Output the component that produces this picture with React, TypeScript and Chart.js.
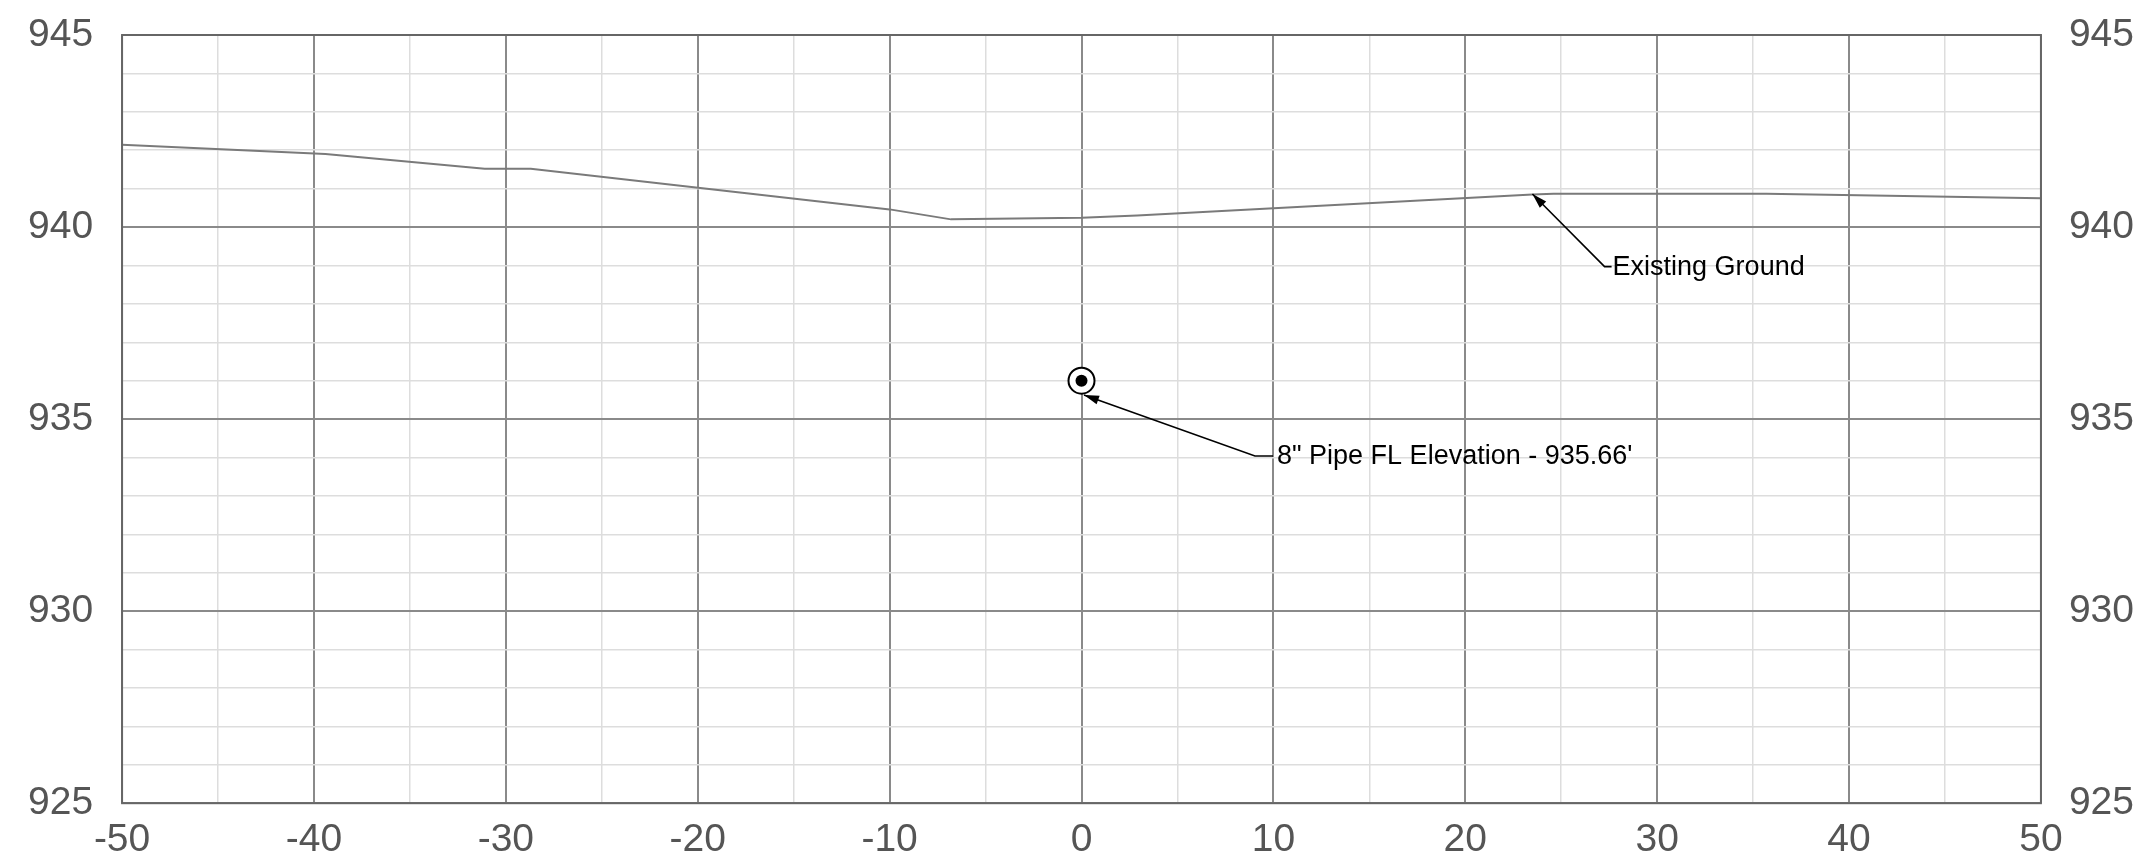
import React, { useEffect, useRef } from "react";
import { Chart, registerables } from "chart.js";

Chart.register(...registerables);

// ---- data ----
const xMin = -50;
const xMax = 50;
const yMin = 925;
const yMax = 945;

const stations = [-50, -39.4, -31.1, -28.7, -10, -6.8, 0, 2.9, 23.5, 24.6, 35.7, 50];
const groundElev = [942.14, 941.9, 941.52, 941.52, 940.46, 940.2, 940.24, 940.3, 940.85, 940.87, 940.87, 940.75];

const pipeStation = [0];
const pipeElev = [936.0];

const pipeLabel = `8" Pipe FL Elevation - 935.66'`;
const groundLabel = "Existing Ground";

// leader arrows: tip and elbow in data units
const pipeArrowTip = [0.13, 935.63];
const pipeArrowElbow = [9.04, 934.04];
const groundArrowTip = [23.5, 940.86];
const groundArrowElbow = [27.26, 938.97];

const FONT = '"Liberation Sans", Arial, Helvetica, sans-serif';

const frameAndNotes = {
  id: "frameAndNotes",
  afterDatasetsDraw(chart: any) {
    const { ctx, chartArea, scales } = chart;
    const xs = scales.x;
    const ys = scales.y;
    ctx.save();
    ctx.strokeStyle = "#666666";
    ctx.lineWidth = 2;
    ctx.strokeRect(chartArea.left, chartArea.top, chartArea.right - chartArea.left, chartArea.bottom - chartArea.top);

    const notes = [
      { tip: pipeArrowTip, elbow: pipeArrowElbow, tail: 18, gap: 4, text: pipeLabel },
      { tip: groundArrowTip, elbow: groundArrowElbow, tail: 7, gap: 1, text: groundLabel },
    ];
    for (const n of notes) {
      const tx = xs.getPixelForValue(n.tip[0]);
      const ty = ys.getPixelForValue(n.tip[1]);
      const ex = xs.getPixelForValue(n.elbow[0]);
      const ey = ys.getPixelForValue(n.elbow[1]);
      ctx.strokeStyle = "#000";
      ctx.lineWidth = 1.6;
      ctx.beginPath();
      ctx.moveTo(ex + n.tail, ey);
      ctx.lineTo(ex, ey);
      ctx.lineTo(tx, ty);
      ctx.stroke();
      // arrow head
      const ang = Math.atan2(ty - ey, tx - ex);
      const len = 15;
      const hw = 4.5;
      const bx = tx - len * Math.cos(ang);
      const by = ty - len * Math.sin(ang);
      ctx.fillStyle = "#000";
      ctx.beginPath();
      ctx.moveTo(tx, ty);
      ctx.lineTo(bx + hw * Math.sin(ang), by - hw * Math.cos(ang));
      ctx.lineTo(bx - hw * Math.sin(ang), by + hw * Math.cos(ang));
      ctx.closePath();
      ctx.fill();
      ctx.font = `27px ${FONT}`;
      ctx.textAlign = "left";
      ctx.textBaseline = "middle";
      ctx.fillText(n.text, ex + n.tail + n.gap, ey + 1);
    }
    ctx.restore();
  },
};

const noVerticalOverflow = (scale: any) => {
  scale.paddingTop = 0;
  scale.paddingBottom = 0;
};

export default function App() {
  const ref = useRef<HTMLCanvasElement | null>(null);
  useEffect(() => {
    if (!ref.current) return;
    const tickFont = { family: FONT, size: 39 };
    const chart = new Chart(ref.current, {
      type: "scatter",
      data: {
        datasets: [
          {
            label: "pipe-inner",
            data: pipeStation.map((x, i) => ({ x, y: pipeElev[i] })),
            pointRadius: 6,
            pointBackgroundColor: "#000",
            pointBorderWidth: 0,
            order: 0,
          },
          {
            label: "pipe-outer",
            data: pipeStation.map((x, i) => ({ x, y: pipeElev[i] })),
            pointRadius: 13,
            pointBackgroundColor: "#fff",
            pointBorderColor: "#000",
            pointBorderWidth: 2,
            order: 1,
          },
          {
            label: "ground",
            data: stations.map((x, i) => ({ x, y: groundElev[i] })),
            showLine: true,
            borderColor: "#7a7a7a",
            borderWidth: 2,
            pointRadius: 0,
            order: 2,
          },
        ],
      },
      options: {
        responsive: false,
        animation: false,
        devicePixelRatio: 1,
        layout: { padding: { left: -1, right: -16, top: 35, bottom: -10 } },
        plugins: { legend: { display: false }, tooltip: { enabled: false } },
        scales: {
          x: {
            type: "linear",
            min: xMin,
            max: xMax,
            border: { display: false },
            grid: {
              drawTicks: false,
              color: (c: any) => (c.tick && c.tick.value % 10 === 0 ? "#8a8a8a" : "#dddddd"),
              lineWidth: (c: any) => (c.tick && c.tick.value % 10 === 0 ? 2 : 1.5),
            },
            ticks: {
              stepSize: 5,
              autoSkip: false,
              maxRotation: 0,
              padding: 13.5,
              color: "#555555",
              font: tickFont,
              callback: (v: any) => (Number(v) % 10 === 0 ? String(v) : ""),
            },
          },
          y: {
            type: "linear",
            position: "left",
            min: yMin,
            max: yMax,
            afterFit: noVerticalOverflow,
            border: { display: false },
            grid: {
              drawTicks: false,
              color: (c: any) => (c.tick && c.tick.value % 5 === 0 ? "#8a8a8a" : "#dddddd"),
              lineWidth: (c: any) => (c.tick && c.tick.value % 5 === 0 ? 2 : 1.5),
            },
            ticks: {
              stepSize: 1,
              autoSkip: false,
              padding: 29,
              color: "#555555",
              font: tickFont,
              callback: (v: any) => (Number(v) % 5 === 0 ? String(v) : ""),
            },
          },
          y2: {
            type: "linear",
            position: "right",
            min: yMin,
            max: yMax,
            afterFit: noVerticalOverflow,
            border: { display: false },
            grid: { display: false, drawTicks: false },
            ticks: {
              stepSize: 1,
              autoSkip: false,
              padding: 28,
              color: "#555555",
              font: tickFont,
              callback: (v: any) => (Number(v) % 5 === 0 ? String(v) : ""),
            },
          },
        },
      },
      plugins: [frameAndNotes],
    } as any);
    return () => chart.destroy();
  }, []);
  return (
    <div style={{ position: "fixed", left: 0, top: 0, width: 2146, height: 867, background: "#fff" }}>
      <canvas ref={ref} width={2146} height={867} style={{ width: 2146, height: 867, display: "block" }} />
    </div>
  );
}
